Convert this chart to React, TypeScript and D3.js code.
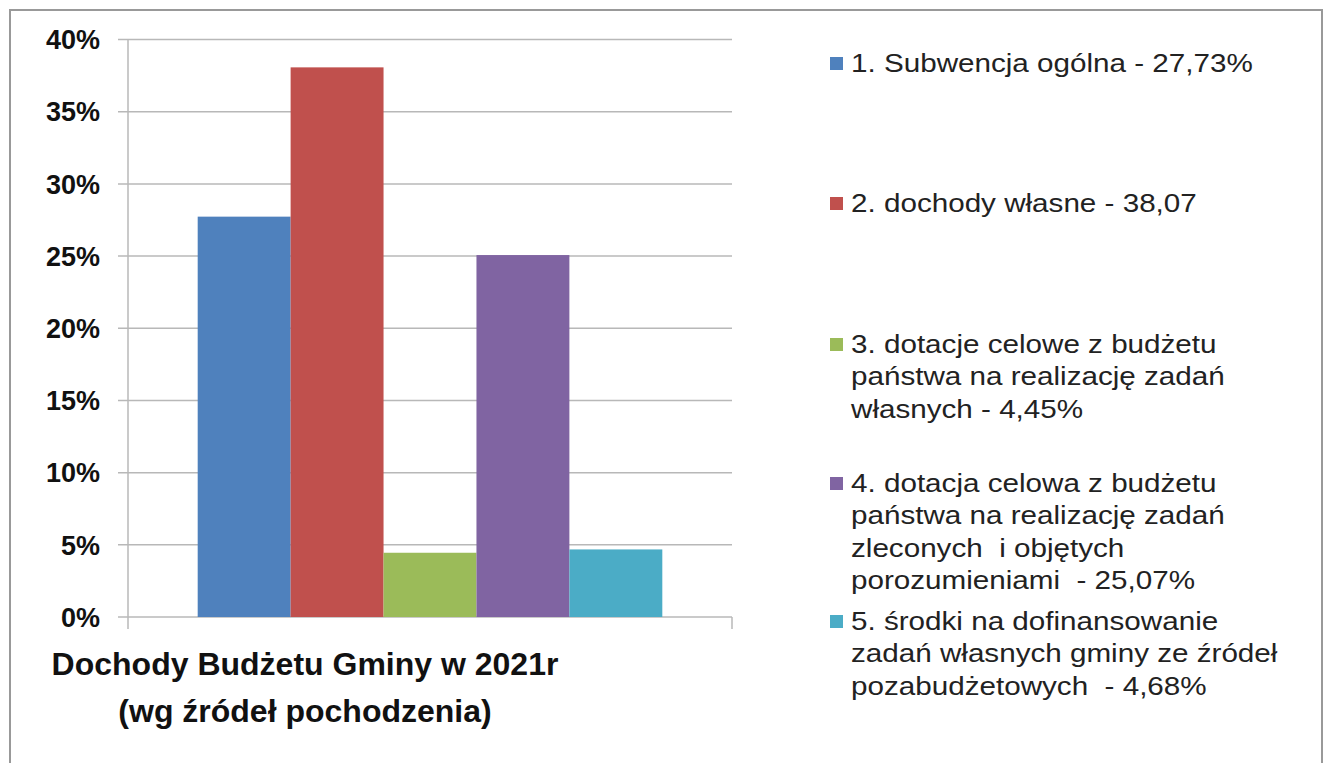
import React, { useRef, useEffect } from "react";
import * as d3 from "d3";

const categories = ["Dochody"];
const seriesValues = [27.73, 38.07, 4.45, 25.07, 4.68];
const seriesColors = ["#4F81BD", "#C0504D", "#9BBB59", "#8064A2", "#4BACC6"];
const legendLines = [
  ["1. Subwencja ogólna - 27,73%"],
  ["2. dochody własne - 38,07"],
  ["3. dotacje celowe z budżetu", "państwa na realizację zadań", "własnych - 4,45%"],
  [
    "4. dotacja celowa z budżetu",
    "państwa na realizację zadań",
    "zleconych  i objętych",
    "porozumieniami  - 25,07%",
  ],
  [
    "5. środki na dofinansowanie",
    "zadań własnych gminy ze źródeł",
    "pozabudżetowych  - 4,68%",
  ],
];
const yTicks = [0, 5, 10, 15, 20, 25, 30, 35, 40];
const titleLines = ["Dochody Budżetu Gminy w 2021r", "(wg źródeł pochodzenia)"];

const W = 1327;
const H = 763;
const FONT = "'Liberation Sans', Arial, sans-serif";

const App = () => {
  const ref = useRef<SVGSVGElement>(null);

  useEffect(() => {
    document.body.style.margin = "0";
    const svg = d3.select(ref.current);
    svg.selectAll("*").remove();
    svg.attr("width", W).attr("height", H);

    svg.append("rect").attr("width", W).attr("height", H).attr("fill", "white");

    // outer frame
    svg
      .append("rect")
      .attr("x", 10)
      .attr("y", 10)
      .attr("width", 1312)
      .attr("height", 780)
      .attr("fill", "none")
      .attr("stroke", "#999")
      .attr("stroke-width", 2);

    const x0 = d3.scaleBand().domain(categories).range([128, 732]).paddingOuter(0.15).paddingInner(0);
    const x1 = d3
      .scaleBand<number>()
      .domain(d3.range(seriesValues.length))
      .range([0, x0.bandwidth()]);
    const y = d3.scaleLinear().domain([0, 40]).range([617, 39.5]);

    // gridlines
    svg
      .append("g")
      .selectAll("line")
      .data(yTicks)
      .enter()
      .append("line")
      .attr("x1", 118)
      .attr("x2", 732)
      .attr("y1", (d) => y(d))
      .attr("y2", (d) => y(d))
      .attr("stroke", "#b8b8b8")
      .attr("stroke-width", 1.5);

    // y axis line + category edge ticks
    svg
      .append("line")
      .attr("x1", 128)
      .attr("x2", 128)
      .attr("y1", y(40))
      .attr("y2", 629)
      .attr("stroke", "#b8b8b8")
      .attr("stroke-width", 1.5);
    svg
      .append("line")
      .attr("x1", 732)
      .attr("x2", 732)
      .attr("y1", y(0))
      .attr("y2", 629)
      .attr("stroke", "#b8b8b8")
      .attr("stroke-width", 1.5);

    // y labels
    svg
      .append("g")
      .selectAll("text")
      .data(yTicks)
      .enter()
      .append("text")
      .attr("x", 100)
      .attr("y", (d) => y(d))
      .attr("dy", "0.36em")
      .attr("text-anchor", "end")
      .style("font-family", FONT)
      .style("font-weight", "bold")
      .style("font-size", "27px")
      .attr("fill", "#111")
      .text((d) => `${d}%`);

    // bars
    svg
      .append("g")
      .selectAll("rect")
      .data(seriesValues)
      .enter()
      .append("rect")
      .attr("x", (d, i) => (x0(categories[0]) as number) + (x1(i) as number))
      .attr("y", (d) => y(d))
      .attr("width", x1.bandwidth())
      .attr("height", (d) => y(0) - y(d))
      .attr("fill", (d, i) => seriesColors[i]);

    // title
    const title = svg
      .append("text")
      .attr("text-anchor", "middle")
      .style("font-family", FONT)
      .style("font-weight", "bold")
      .style("font-size", "32px")
      .attr("fill", "#111");
    titleLines.forEach((t, i) => {
      title
        .append("tspan")
        .attr("x", 305)
        .attr("y", 675 + i * 47)
        .text(t);
    });

    // legend (text in the source is a bit wider than normal, hence scaleX)
    const legendTop = [72, 212, 353, 492, 630];
    const lg = svg.append("g");
    legendLines.forEach((lines, i) => {
      lg.append("rect")
        .attr("x", 830)
        .attr("y", legendTop[i] - 15)
        .attr("width", 13)
        .attr("height", 13)
        .attr("fill", seriesColors[i]);
      const t = lg
        .append("text")
        .attr("transform", "translate(851,0) scale(1.14,1)")
        .style("font-family", FONT)
        .style("font-size", "26px")
        .attr("fill", "#222");
      lines.forEach((l, j) => {
        t.append("tspan")
          .attr("x", 0)
          .attr("y", legendTop[i] + j * 32.5)
          .style("white-space", "pre")
          .text(l);
      });
    });
  }, []);

  return <svg ref={ref} style={{ display: "block" }}></svg>;
};

export default App;
